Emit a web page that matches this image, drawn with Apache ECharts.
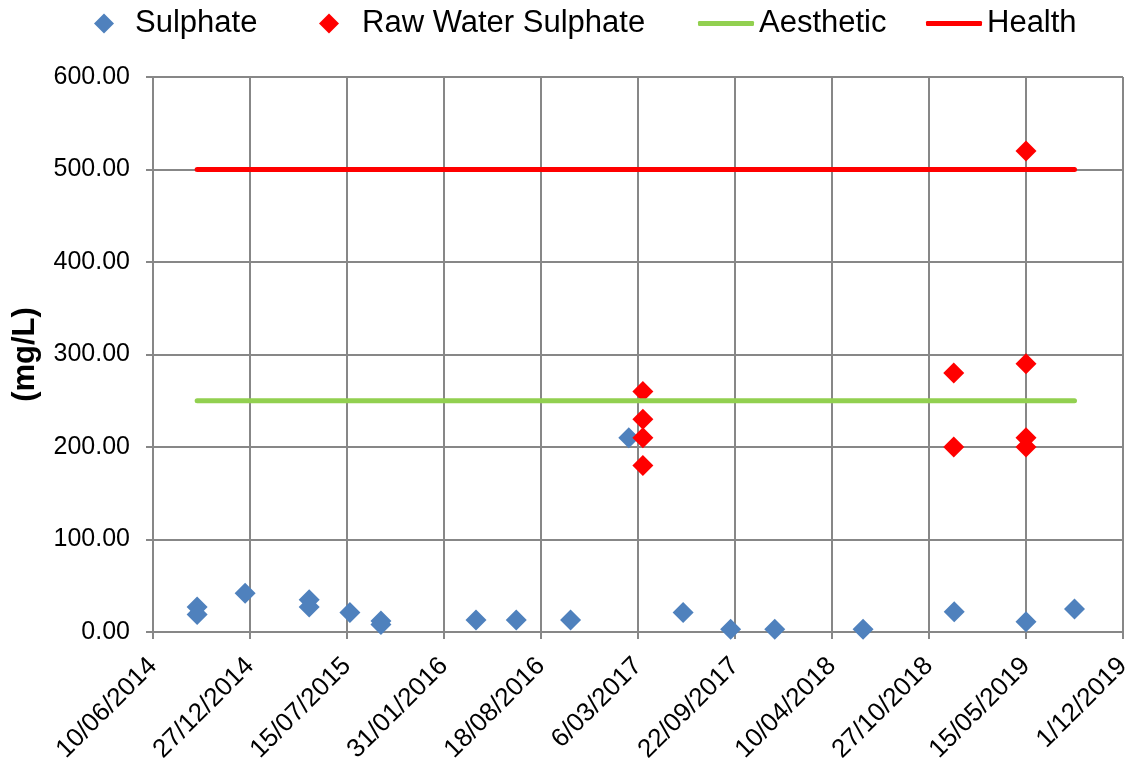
<!DOCTYPE html>
<html>
<head>
<meta charset="utf-8">
<script src="https://cdn.jsdelivr.net/npm/echarts@6/dist/echarts.min.js"></script>
<style>
html,body{margin:0;padding:0;background:#fff;}
#chart{width:1131px;height:762px;}
</style>
</head>
<body>
<div id="chart"></div>
<script>
// ---- data ----
const xTickStart = '10/06/2014';
const xTickStepDays = 200;
const xTickCount = 10;
const yTicks = [0, 100, 200, 300, 400, 500, 600];

const sulphateDates  = ['9/09/2014','9/09/2014','17/12/2014','28/04/2015','28/04/2015','21/07/2015','23/09/2015','23/09/2015','6/04/2016','28/06/2016','18/10/2016','15/02/2017','7/06/2017','13/09/2017','13/12/2017','13/06/2018','18/12/2018','15/05/2019','23/08/2019'];
const sulphateValues = [27, 19, 42, 35, 27, 21, 12, 8, 13, 13, 13, 210, 21, 3, 3, 3, 22, 11, 25];

const rawDates  = ['16/03/2017','16/03/2017','16/03/2017','16/03/2017','17/12/2018','17/12/2018','15/05/2019','15/05/2019','15/05/2019','15/05/2019'];
const rawValues = [260, 230, 210, 180, 280, 200, 520, 290, 210, 200];

const guideDates = ['9/09/2014', '23/08/2019'];
const aestheticValues = [250, 250];
const healthValues = [500, 500];

// ---- helpers ----
function parseD(s){ const p = s.split('/').map(Number); return Date.UTC(p[2], p[1]-1, p[0]); }
const origin = parseD(xTickStart);
const DAY = 86400000;
function toDay(s){ return Math.round((parseD(s) - origin) / DAY); }
function fmtDay(d){
  const dt = new Date(origin + d * DAY);
  const dd = dt.getUTCDate();
  const mm = String(dt.getUTCMonth() + 1).padStart(2, '0');
  return dd + '/' + mm + '/' + dt.getUTCFullYear();
}
function pairs(dates, vals){ return dates.map((d, i) => [toDay(d), vals[i]]); }

const FONT = "'Liberation Sans', Arial, sans-serif";
const GRID = '#878787';
const LFS = 31;

const chart = echarts.init(document.getElementById('chart'), null, {renderer: 'canvas'});
const legendBase = {
  top: 8, padding: 0, selectedMode: false, orient: 'horizontal',
  textStyle: {fontFamily: FONT, fontSize: LFS, color: '#000'}
};
chart.setOption({
  animation: false,
  backgroundColor: '#fff',
  legend: [
    Object.assign({}, legendBase, {left: 94, data: ['Sulphate'], icon: 'diamond', itemWidth: 20, itemHeight: 20,
      textStyle: {fontFamily: FONT, fontSize: LFS, color: '#000', padding: [0,0,0,16]}}),
    Object.assign({}, legendBase, {left: 319, data: ['Raw Water Sulphate'], icon: 'diamond', itemWidth: 20, itemHeight: 20,
      textStyle: {fontFamily: FONT, fontSize: LFS, color: '#000', padding: [0,0,0,18]}}),
    Object.assign({}, legendBase, {left: 698, data: ['Aesthetic'], icon: 'roundRect', itemWidth: 56, itemHeight: 5}),
    Object.assign({}, legendBase, {left: 926, data: ['Health'], icon: 'roundRect', itemWidth: 56, itemHeight: 5})
  ],
  grid: {left: 153, right: 8, top: 77, bottom: 130, containLabel: false, outerBoundsMode: 'none'},
  xAxis: {
    type: 'value',
    min: 0, max: xTickStepDays * xTickCount, interval: xTickStepDays,
    axisLine: {show: true, lineStyle: {color: GRID, width: 2}},
    axisTick: {show: true, length: 7, lineStyle: {color: GRID, width: 2}},
    splitLine: {show: true, lineStyle: {color: GRID, width: 2}},
    axisLabel: {rotate: 45, margin: 30, fontFamily: FONT, fontSize: 26, color: '#000',
      formatter: v => fmtDay(v), showMinLabel: true, showMaxLabel: true}
  },
  yAxis: {
    type: 'value',
    min: yTicks[0], max: yTicks[yTicks.length - 1], interval: yTicks[1] - yTicks[0],
    name: '(mg/L)', nameLocation: 'middle', nameGap: 112,
    nameTextStyle: {fontFamily: FONT, fontSize: 31, fontWeight: 'bold', color: '#000'},
    axisLine: {show: true, lineStyle: {color: GRID, width: 2}},
    axisTick: {show: true, length: 7, lineStyle: {color: GRID, width: 2}},
    splitLine: {show: true, lineStyle: {color: GRID, width: 2}},
    axisLabel: {margin: 23, fontFamily: FONT, fontSize: 25, color: '#000', formatter: v => v.toFixed(2)}
  },
  series: [
    {name: 'Sulphate', type: 'scatter', symbol: 'diamond', symbolSize: 21,
     itemStyle: {color: '#4F81BD', opacity: 1}, data: pairs(sulphateDates, sulphateValues), z: 2},
    {name: 'Raw Water Sulphate', type: 'scatter', symbol: 'diamond', symbolSize: 21,
     itemStyle: {color: '#FF0000', opacity: 1}, data: pairs(rawDates, rawValues), z: 3},
    {name: 'Aesthetic', type: 'line', symbol: 'none', showSymbol: false,
     itemStyle: {color: '#92D050'}, lineStyle: {color: '#92D050', width: 5, cap: 'round'},
     data: pairs(guideDates, aestheticValues), z: 4},
    {name: 'Health', type: 'line', symbol: 'none', showSymbol: false,
     itemStyle: {color: '#FF0000'}, lineStyle: {color: '#FF0000', width: 5, cap: 'round'},
     data: pairs(guideDates, healthValues), z: 4}
  ]
});
</script>
</body>
</html>
